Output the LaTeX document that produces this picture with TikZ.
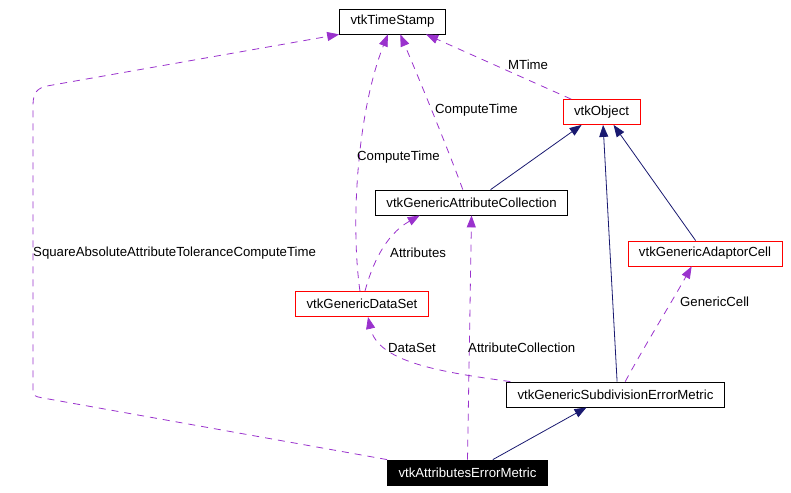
\documentclass[tikz,border=0pt]{standalone}
\usepackage{fontspec}
\setmainfont{Liberation Sans}
\usetikzlibrary{arrows.meta}
\definecolor{edgepurple}{HTML}{9A32CD}
\definecolor{edgenavy}{HTML}{191970}
\begin{document}
\begin{tikzpicture}[x=1pt,y=-1pt,
    font=\fontsize{13.2}{15}\selectfont,
    cls/.style={draw,line width=0.8pt,minimum height=25pt,inner xsep=11pt,inner ysep=0pt,fill=white},
    redcls/.style={cls,draw=red},
    dep/.style={edgepurple,line width=0.8pt,dash pattern=on 7pt off 6pt,-{Triangle[length=12pt,width=9pt]}},
    inh/.style={edgenavy,line width=0.8pt,-{Triangle[length=12pt,width=9pt]}},
    lbl/.style={anchor=west,inner sep=0pt}]
    \useasboundingbox (0,0) rectangle (791,492);
    % classes
    \node[cls] (ts) at (392.5,21.5) {vtkTimeStamp};
    \node[redcls] (obj) at (601.5,112) {vtkObject};
    \node[cls] (gac) at (471.5,202.5) {vtkGenericAttributeCollection};
    \node[redcls] (gadc) at (705,253.5) {vtkGenericAdaptorCell};
    \node[redcls] (gds) at (362,304) {vtkGenericDataSet};
    \node[cls] (gsem) at (615.5,394.5) {vtkGenericSubdivisionErrorMetric};
    \node[cls,fill=black,text=white] (aem) at (467.5,472.5) {vtkAttributesErrorMetric};
    % inheritance
    \draw[inh] (gac.34) -- (obj.213);
    \draw[inh] (gsem.83) -- (obj.277);
    \draw[inh] (gadc.126) -- (obj.313);
    \draw[inh] (aem.27) -- (gsem.204);
    % usage
    \draw[dep] (aem.north west) -- (43,398) .. controls (33,396) .. (33,388)
        -- (33,105) .. controls (33,92) and (38,88) .. (47,86) -- (ts.south west);
    \draw[dep] (gds.99) .. controls (350,220) and (358,110) .. (ts.250);
    \draw[dep] (gac.124) .. controls (452,160) and (428,100) .. (ts.301);
    \draw[dep] (obj.157) -- (ts.339);
    \draw[dep] (gds.77) .. controls (372,265) and (385,235) .. (gac.194);
    \draw[dep] (gsem.173) .. controls (440,372) and (378,362) .. (gds.295);
    \draw[dep] (aem.north) -- (gac.south);
    \draw[dep] (gsem.53) .. controls (645,345) and (670,305) .. (gadc.224);
    % labels
    \node[lbl] (lsq) at (33,253) {SquareAbsoluteAttributeToleranceComputeTime};
    \node[lbl] (lct1) at (357,157) {ComputeTime};
    \node[lbl] (lct2) at (435,110) {ComputeTime};
    \node[lbl] (lmt) at (508,65) {MTime};
    \node[lbl] (lat) at (390,253) {Attributes};
    \node[lbl] (lds) at (388,348) {DataSet};
    \node[lbl] (lac) at (468,348) {AttributeCollection};
    \node[lbl] (lgc) at (680,302) {GenericCell};
\end{tikzpicture}
\end{document}
